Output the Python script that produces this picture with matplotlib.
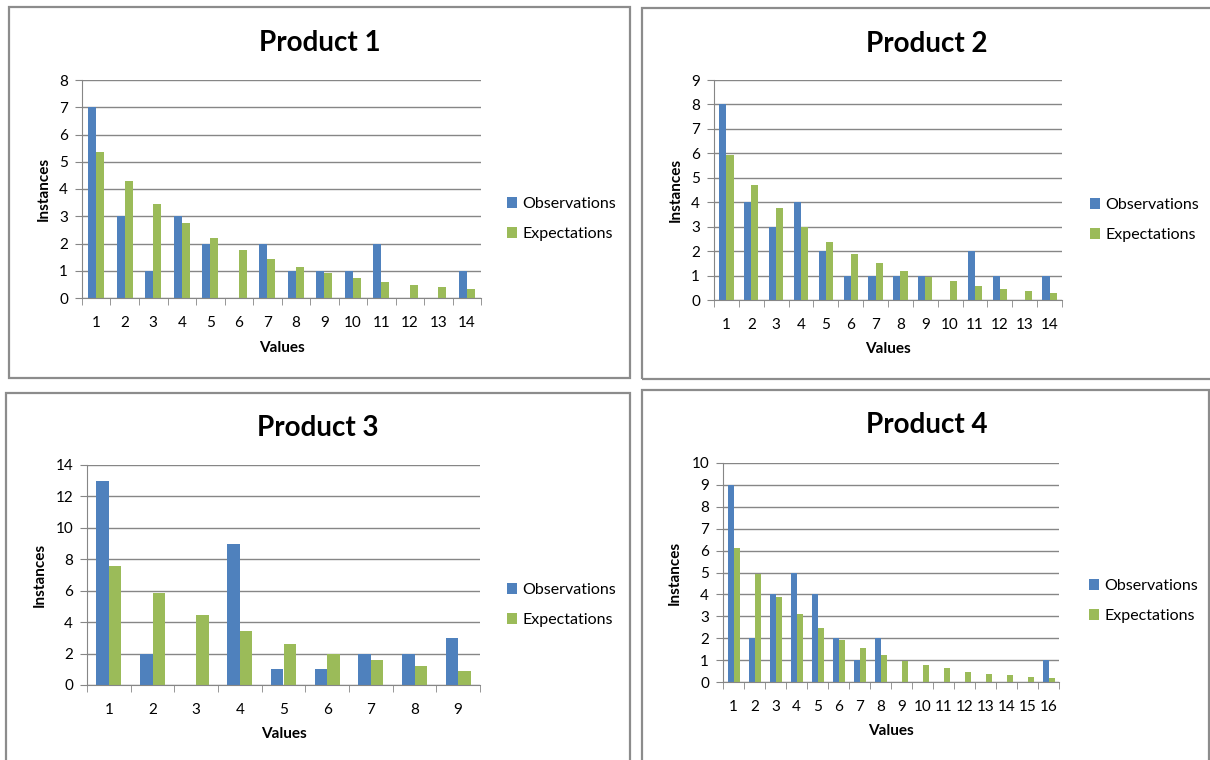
import numpy as np
import matplotlib.pyplot as plt
from matplotlib.patches import Rectangle

plt.rcParams['font.family'] = ['Lato', 'DejaVu Sans']

# observed counts and expected counts for each product
obs1 = [7, 3, 1, 3, 2, 0, 2, 1, 1, 1, 2, 0, 0, 1]
exp1 = [5.35, 4.29, 3.45, 2.76, 2.21, 1.76, 1.43, 1.13, 0.93, 0.74, 0.60, 0.47, 0.39, 0.32]

obs2 = [8, 4, 3, 4, 2, 1, 1, 1, 1, 0, 2, 1, 0, 1]
exp2 = [5.92, 4.72, 3.78, 3.00, 2.38, 1.89, 1.50, 1.20, 0.93, 0.76, 0.59, 0.45, 0.38, 0.29]

obs3 = [13, 2, 0, 9, 1, 1, 2, 2, 3]
exp3 = [7.55, 5.83, 4.48, 3.44, 2.63, 1.99, 1.60, 1.22, 0.90]

obs4 = [9, 2, 4, 5, 4, 2, 1, 2, 0, 0, 0, 0, 0, 0, 0, 1]
exp4 = [6.14, 4.91, 3.89, 3.10, 2.46, 1.93, 1.55, 1.22, 0.97, 0.76, 0.62, 0.47, 0.38, 0.30, 0.24, 0.20]

titles = ['Product 1', 'Product 2', 'Product 3', 'Product 4']
series_names = ['Observations', 'Expectations']

BLUE = '#4F81BD'
GREEN = '#9BBB59'
GRID = '#868686'
FRAME = '#8c8c8c'

W, H = 1210, 760
fig = plt.figure(figsize=(W / 100, H / 100), dpi=100)


def fx(px):
    return px / W


def fy(py):
    return 1 - py / H


def panel(obs, exp, title, ymax, ystep, frame, plot, title_xy, ylab_x, xlab_y, leg):
    # outer chart border
    l, t, r, b = frame
    fig.patches.append(Rectangle((fx(l), fy(b)), fx(r - l), (b - t) / H,
                                 transform=fig.transFigure, fill=False,
                                 edgecolor=FRAME, lw=1.6, zorder=0))

    pl, pt, pr, pb = plot
    ax = fig.add_axes([fx(pl), fy(pb), fx(pr - pl), (pb - pt) / H])
    n = len(obs)
    x = np.arange(1, n + 1)
    w = 1 / 3.5
    b1 = ax.bar(x - w / 2, obs, w, color=BLUE, zorder=3)
    b2 = ax.bar(x + w / 2, exp, w, color=GREEN, zorder=3)

    ax.set_xlim(0.5, n + 0.5)
    ax.set_ylim(0, ymax)
    ax.set_yticks(np.arange(0, ymax + ystep / 2, ystep))
    ax.set_xticks(x)
    ax.set_xticklabels([str(v) for v in x])
    ax.set_xticks(np.arange(0.5, n + 1, 1), minor=True)
    ax.tick_params(axis='x', which='major', length=0, pad=13, labelsize=11)
    ax.tick_params(axis='x', which='minor', length=5, color=GRID, direction='out')
    ax.tick_params(axis='y', length=5, color=GRID, pad=5, labelsize=11)

    ax.yaxis.grid(True, color=GRID, lw=1)
    ax.set_axisbelow(True)
    for s in ['top', 'right']:
        ax.spines[s].set_visible(False)
    for s in ['left', 'bottom']:
        ax.spines[s].set_color(GRID)
        ax.spines[s].set_zorder(4)

    fig.text(fx(title_xy[0]), fy(title_xy[1]), title,
             ha='center', va='center', fontsize=20, fontweight='bold')
    fig.text(fx(ylab_x), fy((pt + pb) / 2), 'Instances', rotation=90,
             ha='center', va='center', fontsize=11, fontweight='bold')
    fig.text(fx((pl + pr) / 2), fy(xlab_y), 'Values', ha='center', va='center',
             fontsize=11, fontweight='bold')

    fig.legend([b1, b2], series_names, loc='center left',
               bbox_to_anchor=(fx(leg[0]), fy(leg[1])), frameon=False,
               fontsize=11.5, handlelength=0.65, handleheight=0.65,
               handletextpad=0.3, labelspacing=1.0, borderpad=0,
               borderaxespad=0)
    return ax


panel(obs1, exp1, titles[0], 8, 1, (9, 7, 630, 378), (82, 80, 481, 298),
      (320, 43), 44, 348, (507, 219))
panel(obs2, exp2, titles[1], 9, 1, (642, 8, 1216, 379), (714, 80, 1062, 300),
      (927, 44), 676, 349, (1090, 220))
panel(obs3, exp3, titles[2], 14, 2, (6, 393, 630, 766), (87, 465, 480, 685),
      (318, 428), 40, 734, (507, 605))
panel(obs4, exp4, titles[3], 10, 1, (642, 390, 1209, 766), (723, 463, 1059, 682),
      (927, 425), 675, 731, (1089, 601))

fig.savefig('out.png', dpi=100)
